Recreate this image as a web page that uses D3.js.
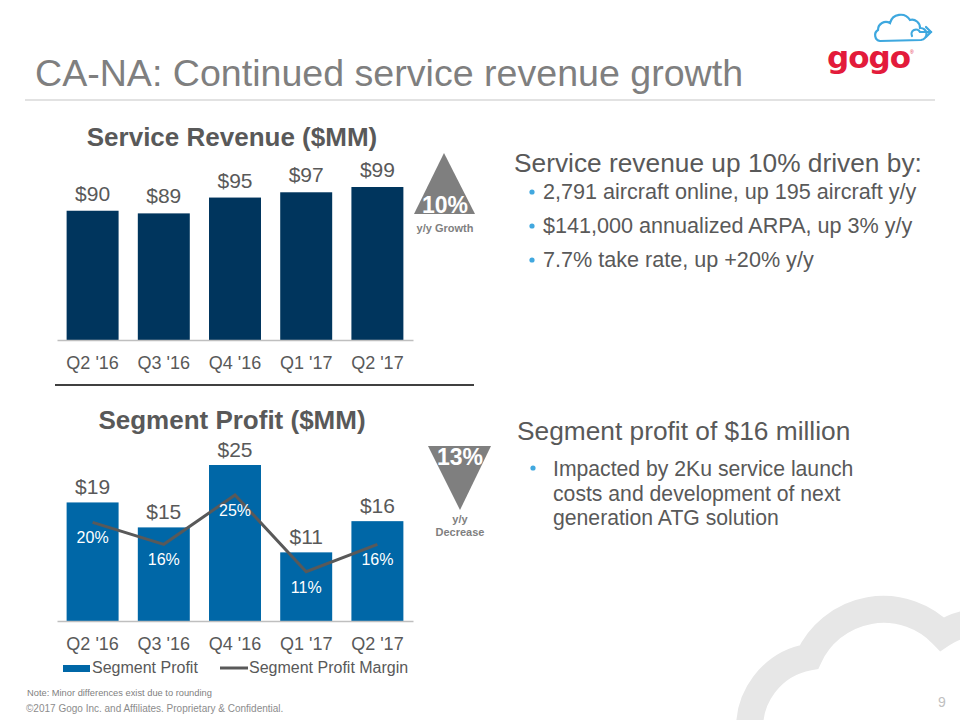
<!DOCTYPE html>
<html>
<head>
<meta charset="utf-8">
<script src="https://cdn.jsdelivr.net/npm/d3@7/dist/d3.min.js"></script>
<style>
  html, body { margin: 0; padding: 0; background: #fff; }
  svg { display: block; font-family: "Liberation Sans", Arial, sans-serif; }
</style>
</head>
<body>
<svg id="chart" width="960" height="720"></svg>
<script>
// ---------- data ----------
const quarters = ["Q2 '16", "Q3 '16", "Q4 '16", "Q1 '17", "Q2 '17"];
const serviceRevenue = [90, 89, 95, 97, 99];
const segmentProfit = [19, 15, 25, 11, 16];
const segmentMargin = [20, 16, 25, 11, 16];
const legendLabels = ["Segment Profit", "Segment Profit Margin"];
const revenueGrowth = "10%";
const profitDecrease = "13%";
const revenueBullets = [
  "2,791 aircraft online, up 195 aircraft y/y",
  "$141,000 annualized ARPA, up 3% y/y",
  "7.7% take rate, up +20% y/y"
];
const profitBulletLines = [
  "Impacted by 2Ku service launch",
  "costs and development of next",
  "generation ATG solution"
];

// ---------- setup ----------
const svg = d3.select("#chart");
const textGray = "#595959";
const navy = "#00355d";
const blue = "#0067a7";
const bulletBlue = "#41a8df";

// background cloud watermark
const wm = svg.append("g").attr("fill", "none").attr("stroke", "#e7e7e7").attr("stroke-width", 27);
wm.append("path").attr("d", "M750,735 A72,72 0 0,1 809,657 A82,82 0 0,1 942,634 A70,70 0 0,1 1000,625");

// ---------- header ----------
svg.append("text").attr("x", 35).attr("y", 86)
  .attr("font-size", 37.6).attr("fill", "#7f7f7f")
  .text("CA-NA: Continued service revenue growth");
svg.append("line").attr("x1", 25).attr("x2", 935).attr("y1", 100).attr("y2", 100)
  .attr("stroke", "#d9d9d9").attr("stroke-width", 1.5);

// logo
svg.append("text").attr("x", 827).attr("y", 68)
  .attr("font-family", "DejaVu Sans").attr("font-weight", "bold")
  .attr("font-size", 31).attr("letter-spacing", -1)
  .attr("fill", "#e31b3b").text("gogo");
svg.append("text").attr("x", 910).attr("y", 54).attr("font-size", 5).attr("fill", "#e31b3b").text("®");
const cloud = svg.append("g").attr("fill", "none").attr("stroke", "#3ea8df").attr("stroke-width", 2.2)
  .attr("stroke-linecap", "round");
cloud.append("path").attr("d",
  "M880,41 A6,6 0 0,1 878,30 A8,8 0 0,1 890,23 A11,11 0 0,1 910,20 A8,8 0 0,1 920,28 A6,6 0 0,1 921,40 Z");
cloud.append("path").attr("d", "M912,36 A4,4 0 0,1 920,32 L931,32");
cloud.append("path").attr("d", "M926,27 L931,32 L926,37");

// ---------- shared scale ----------
const x = d3.scaleBand().domain(quarters).range([57, 413]).paddingInner(0.27).paddingOuter(0.135);

// ---------- Service Revenue chart ----------
const yRev = d3.scaleLinear().domain([41, 115]).range([340, 144.8]);
const gRev = svg.append("g");
gRev.append("text").attr("x", 232).attr("y", 146).attr("text-anchor", "middle")
  .attr("font-size", 26).attr("font-weight", "bold").attr("fill", textGray)
  .text("Service Revenue ($MM)");
gRev.selectAll("rect").data(serviceRevenue).join("rect")
  .attr("x", (d, i) => x(quarters[i])).attr("width", x.bandwidth())
  .attr("y", d => yRev(d)).attr("height", d => yRev(41) - yRev(d))
  .attr("fill", navy);
gRev.selectAll("text.val").data(serviceRevenue).join("text").attr("class", "val")
  .attr("x", (d, i) => x(quarters[i]) + x.bandwidth() / 2)
  .attr("y", d => yRev(d) - 10).attr("text-anchor", "middle")
  .attr("font-size", 21).attr("fill", textGray).text(d => "$" + d);
const axRev = gRev.append("g").attr("transform", "translate(0,340)")
  .call(d3.axisBottom(x).tickSize(0).tickPadding(0).tickSizeOuter(0));
axRev.select(".domain").attr("stroke", "#bfbfbf").attr("stroke-width", 1.5);
axRev.selectAll("text").attr("font-size", 18).attr("fill", textGray)
  .attr("font-family", "Liberation Sans, Arial, sans-serif").attr("dy", 0).attr("y", 29);

svg.append("line").attr("x1", 55).attr("x2", 474).attr("y1", 385).attr("y2", 385)
  .attr("stroke", "#404040").attr("stroke-width", 2.2);

// growth triangle
svg.append("path").attr("d", "M444,153 L475,214 L414,214 Z").attr("fill", "#7f7f7f");
svg.append("text").attr("x", 445).attr("y", 213).attr("text-anchor", "middle")
  .attr("font-size", 23).attr("font-weight", "bold").attr("fill", "#fff").text(revenueGrowth);
svg.append("text").attr("x", 445).attr("y", 232).attr("text-anchor", "middle")
  .attr("font-size", 11).attr("font-weight", "bold").attr("fill", "#7f7f7f").text("y/y Growth");

// ---------- Segment Profit chart ----------
const yProf = d3.scaleLinear().domain([0, 25]).range([621, 465]);
const yMarg = d3.scaleLinear().domain([0, 25]).range([632, 495]);
const gProf = svg.append("g");
gProf.append("text").attr("x", 232).attr("y", 429).attr("text-anchor", "middle")
  .attr("font-size", 26).attr("font-weight", "bold").attr("fill", textGray)
  .text("Segment Profit ($MM)");
gProf.selectAll("rect").data(segmentProfit).join("rect")
  .attr("x", (d, i) => x(quarters[i])).attr("width", x.bandwidth())
  .attr("y", d => yProf(d)).attr("height", d => yProf(0) - yProf(d))
  .attr("fill", blue);
gProf.selectAll("text.val").data(segmentProfit).join("text").attr("class", "val")
  .attr("x", (d, i) => x(quarters[i]) + x.bandwidth() / 2)
  .attr("y", d => yProf(d) - 8).attr("text-anchor", "middle")
  .attr("font-size", 21).attr("fill", textGray).text(d => "$" + d);
const line = d3.line()
  .x((d, i) => x(quarters[i]) + x.bandwidth() / 2)
  .y(d => yMarg(d));
gProf.append("path").datum(segmentMargin).attr("d", line)
  .attr("fill", "none").attr("stroke", textGray).attr("stroke-width", 3);
gProf.selectAll("text.marg").data(segmentMargin).join("text").attr("class", "marg")
  .attr("x", (d, i) => x(quarters[i]) + x.bandwidth() / 2)
  .attr("y", d => yMarg(d) + 21).attr("text-anchor", "middle")
  .attr("font-size", 16).attr("fill", "#fff").text(d => d + "%");
const axProf = gProf.append("g").attr("transform", "translate(0,621)")
  .call(d3.axisBottom(x).tickSize(0).tickPadding(0).tickSizeOuter(0));
axProf.select(".domain").attr("stroke", "#bfbfbf").attr("stroke-width", 1.5);
axProf.selectAll("text").attr("font-size", 18).attr("fill", textGray)
  .attr("font-family", "Liberation Sans, Arial, sans-serif").attr("dy", 0).attr("y", 29);

// legend
const lg = svg.append("g");
lg.append("rect").attr("x", 63).attr("y", 665).attr("width", 27).attr("height", 7).attr("fill", blue);
lg.append("text").attr("x", 92).attr("y", 673).attr("font-size", 16).attr("fill", textGray).text(legendLabels[0]);
lg.append("line").attr("x1", 220).attr("x2", 248).attr("y1", 668).attr("y2", 668)
  .attr("stroke", textGray).attr("stroke-width", 3);
lg.append("text").attr("x", 249).attr("y", 673).attr("font-size", 16).attr("fill", textGray).text(legendLabels[1]);

// decrease triangle
svg.append("path").attr("d", "M428,446 L491,446 L460,510 Z").attr("fill", "#7f7f7f");
svg.append("text").attr("x", 460).attr("y", 465).attr("text-anchor", "middle")
  .attr("font-size", 23).attr("font-weight", "bold").attr("fill", "#fff").text(profitDecrease);
svg.append("text").attr("x", 460).attr("y", 523).attr("text-anchor", "middle")
  .attr("font-size", 11).attr("font-weight", "bold").attr("fill", "#7f7f7f").text("y/y");
svg.append("text").attr("x", 460).attr("y", 536).attr("text-anchor", "middle")
  .attr("font-size", 11).attr("font-weight", "bold").attr("fill", "#7f7f7f").text("Decrease");

// ---------- right-side text ----------
svg.append("text").attr("x", 514).attr("y", 172).attr("font-size", 26.3).attr("fill", textGray)
  .text("Service revenue up 10% driven by:");
revenueBullets.forEach((t, i) => {
  const yy = 199 + i * 34;
  svg.append("circle").attr("cx", 532).attr("cy", yy - 7).attr("r", 2.6).attr("fill", bulletBlue);
  svg.append("text").attr("x", 543).attr("y", yy).attr("font-size", 21.6).attr("fill", textGray).text(t);
});

svg.append("text").attr("x", 517).attr("y", 440).attr("font-size", 26.3).attr("fill", textGray)
  .text("Segment profit of $16 million");
svg.append("circle").attr("cx", 533).attr("cy", 468).attr("r", 2.6).attr("fill", bulletBlue);
profitBulletLines.forEach((t, i) => {
  svg.append("text").attr("x", 553).attr("y", 476 + i * 24.5).attr("font-size", 21.2).attr("fill", textGray).text(t);
});

// ---------- footer ----------
svg.append("text").attr("x", 27).attr("y", 696).attr("font-size", 9.3).attr("fill", "#7f7f7f")
  .text("Note: Minor differences exist due to rounding");
svg.append("text").attr("x", 26).attr("y", 712).attr("font-size", 10).attr("fill", "#8c8c8c")
  .text("©2017 Gogo Inc. and Affiliates. Proprietary & Confidential.");
svg.append("text").attr("x", 942).attr("y", 707).attr("text-anchor", "middle").attr("font-size", 14)
  .attr("fill", "#bfbfbf").text("9");
</script>
</body>
</html>
